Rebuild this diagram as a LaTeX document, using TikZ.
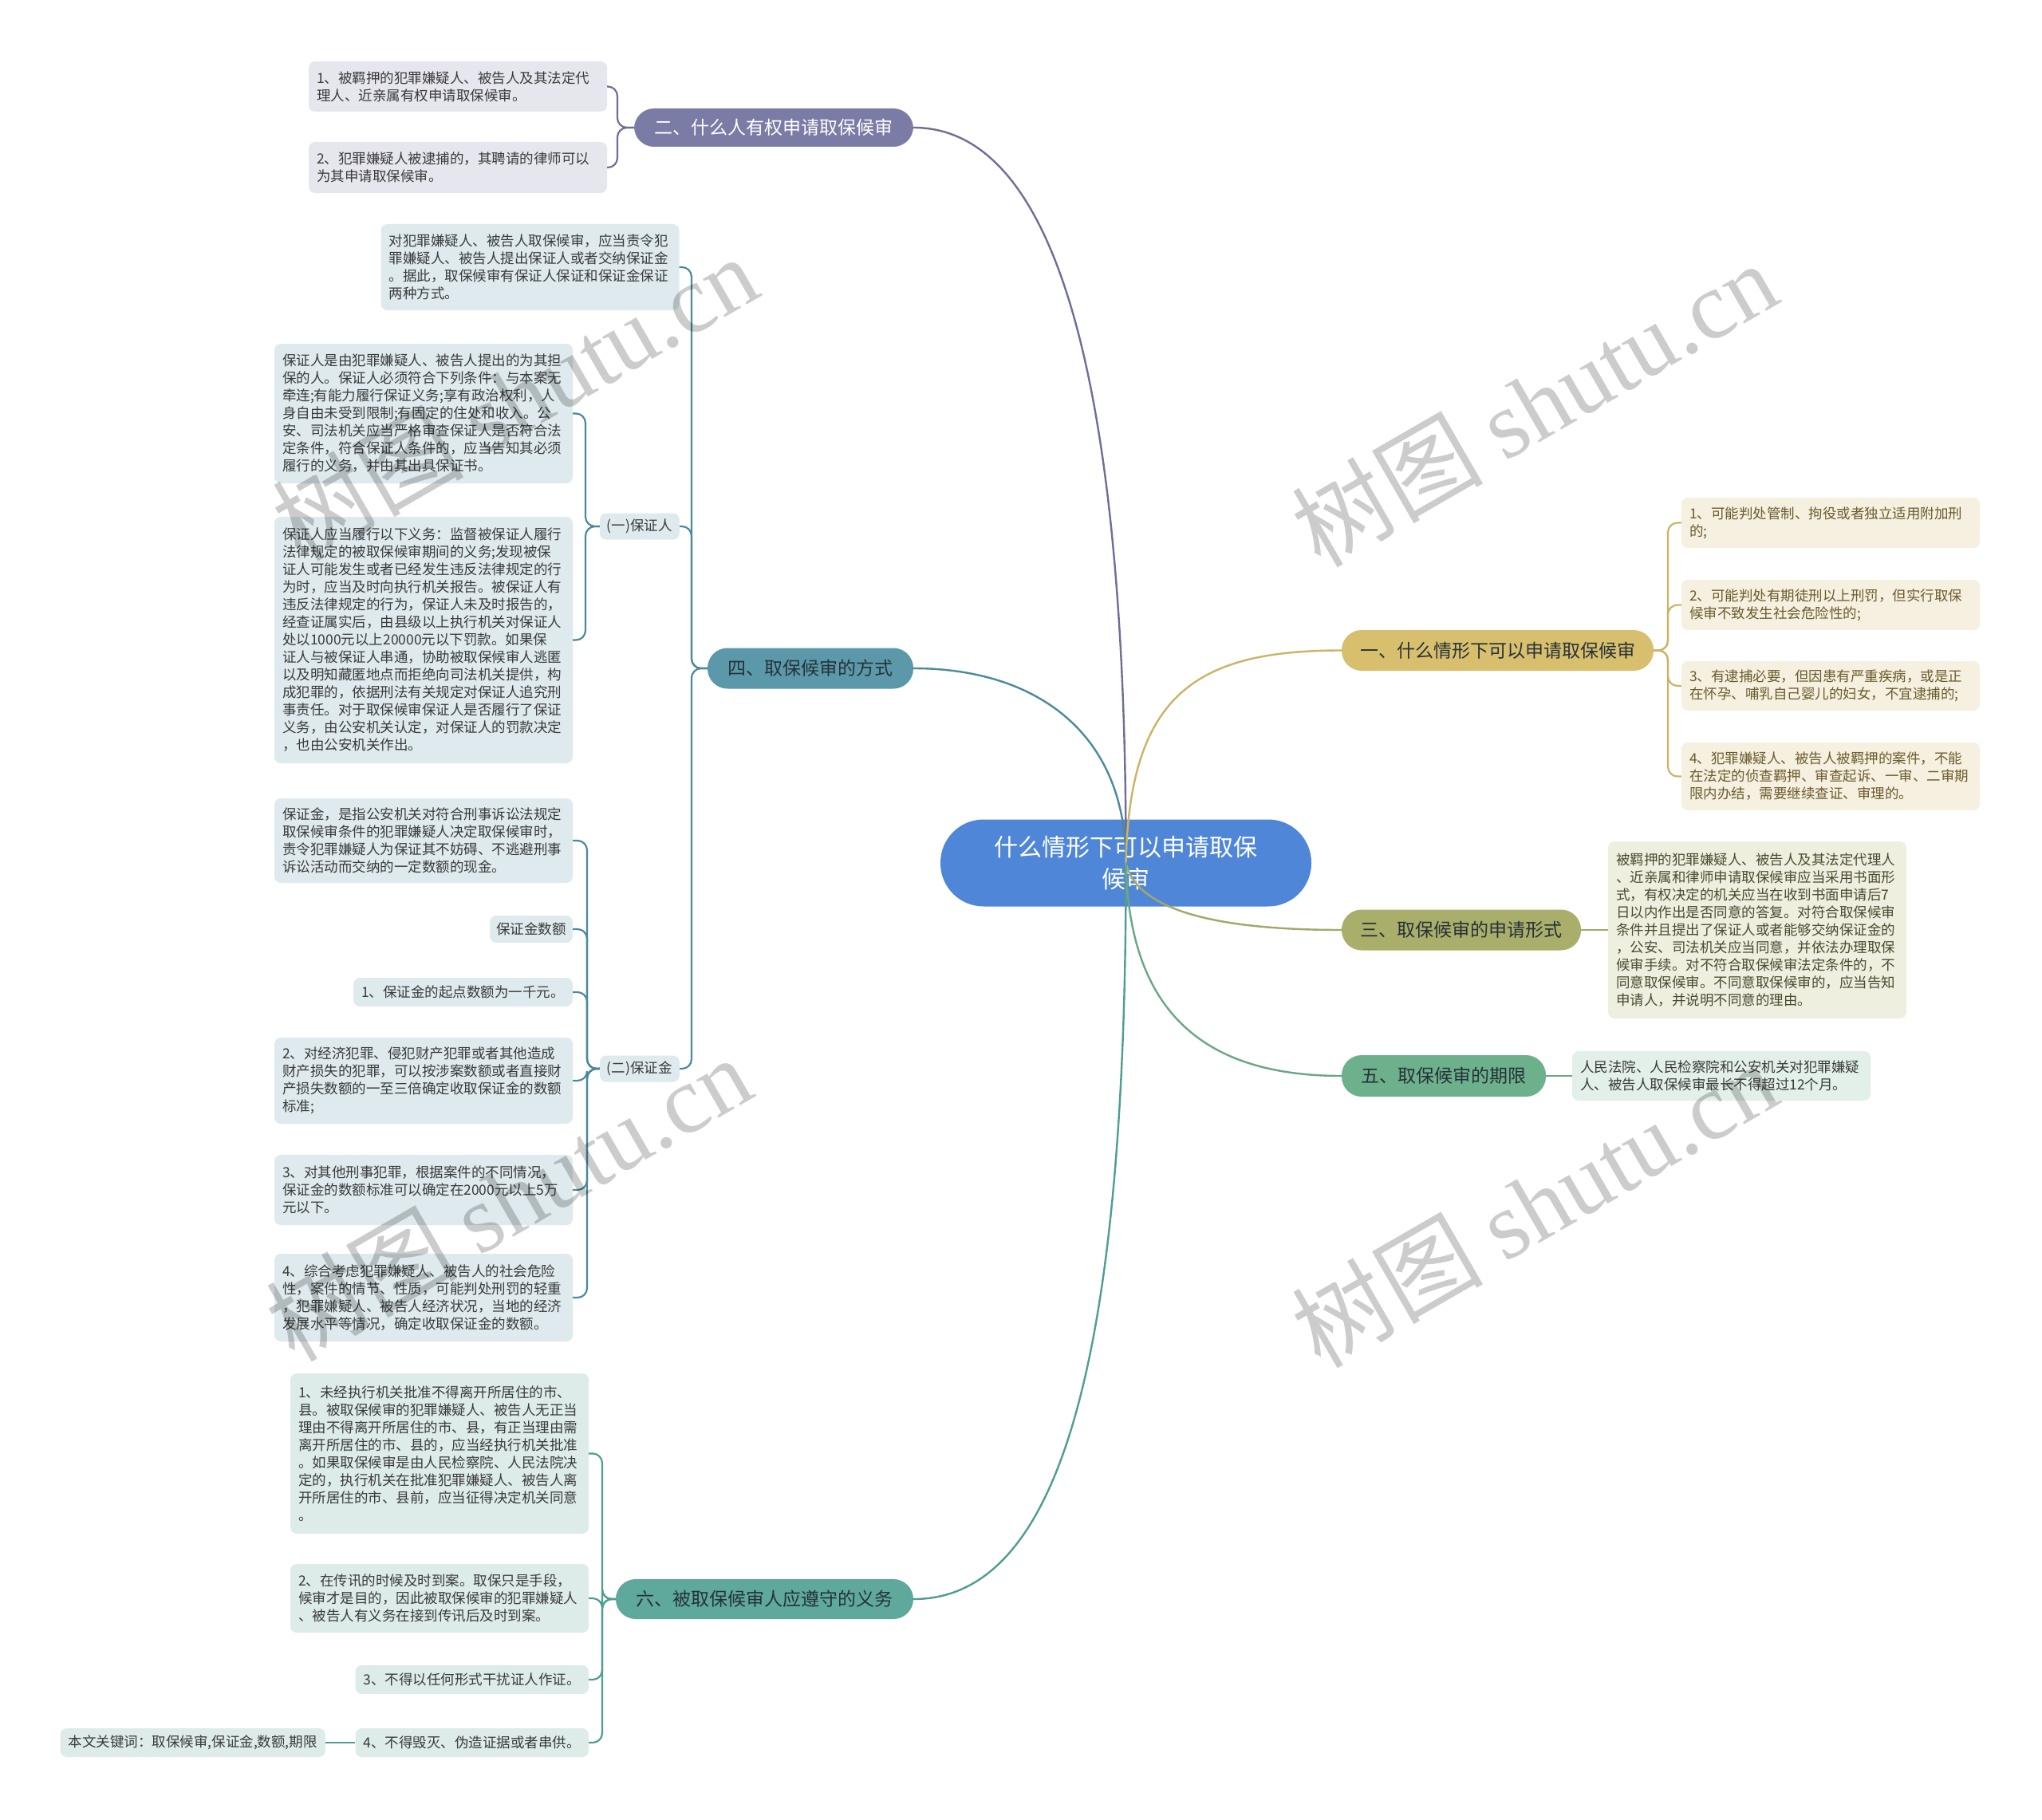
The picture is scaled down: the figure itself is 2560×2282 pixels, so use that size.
\documentclass[tikz,border=0pt]{standalone}
\usepackage{fontspec}
\setmainfont{Noto Sans CJK SC}
\newfontfamily\wmserif{Liberation Serif}
\usetikzlibrary{calc}
\definecolor{cmain}{HTML}{4F86D8}
\definecolor{f2}{HTML}{7B7CA6}\definecolor{k2}{HTML}{6E6F96}\definecolor{l2}{HTML}{E6E6EE}
\definecolor{f4}{HTML}{5A98AA}\definecolor{k4}{HTML}{4B8A9C}\definecolor{l4}{HTML}{DEEAEE}
\definecolor{f6}{HTML}{5EA89C}\definecolor{k6}{HTML}{4F9E91}\definecolor{l6}{HTML}{DDECE9}
\definecolor{f1}{HTML}{D8BF6E}\definecolor{k1}{HTML}{CBB467}\definecolor{l1}{HTML}{F5F0DF}
\definecolor{f3}{HTML}{A9AE6B}\definecolor{k3}{HTML}{A4A866}\definecolor{l3}{HTML}{EFEFDF}
\definecolor{f5}{HTML}{6DB08C}\definecolor{k5}{HTML}{6AA883}\definecolor{l5}{HTML}{E2F0E9}
\definecolor{txt}{HTML}{3A3A3A}\definecolor{txt1}{HTML}{6B5C2D}\definecolor{txt3}{HTML}{4A4A30}
\definecolor{btxt}{HTML}{263238}
\tikzset{
  centre/.style={rectangle, rounded corners=54pt, fill=cmain, text=white, align=center,
    minimum width=465pt, minimum height=109pt, font=\fontsize{30}{40}\selectfont},
  branch/.style={rectangle, rounded corners=25pt, inner sep=0pt, text=btxt,
    font=\fontsize{23}{28}\selectfont},
  leaf/.style={rectangle, rounded corners=8pt, inner xsep=10pt, inner ysep=6pt, align=left,
    text=txt, font=\fontsize{17.5}{22}\selectfont},
  wide/.style={text width=354pt},
  conn/.style={line width=2.4pt, line cap=round},
  brk/.style={line width=2.2pt, rounded corners=12pt},
  wm/.style={rotate=30, text=black, text opacity=0.2, font=\fontsize{120}{120}\selectfont, inner sep=0pt}
}
\begin{document}
\begin{tikzpicture}[x=1pt,y=-1pt]
\useasboundingbox (0,0) rectangle (2560,2282);
\fill[white] (0,0) rectangle (2560,2282);

% centre
\node[centre] (c) at (1411.5,1082) {什么情形下可以申请取保\\候审};

% branches
\node[branch, fill=f2, text=white, minimum width=350pt, minimum height=48pt] (b2) at (970,160) {二、什么人有权申请取保候审};
\node[branch, fill=f4, minimum width=258pt, minimum height=51pt] (b4) at (1016,838) {四、取保候审的方式};
\node[branch, fill=f6, minimum width=373pt, minimum height=50pt] (b6) at (958.5,2005) {六、被取保候审人应遵守的义务};
\node[branch, fill=f1, minimum width=391pt, minimum height=51pt] (b1) at (1877.5,815.5) {一、什么情形下可以申请取保候审};
\node[branch, fill=f3, minimum width=300pt, minimum height=51pt] (b3) at (1832,1166) {三、取保候审的申请形式};
\node[branch, fill=f5, minimum width=256pt, minimum height=52pt] (b5) at (1810,1349) {五、取保候审的期限};

% branch 二 leaves
\node[leaf, wide, fill=l2, minimum height=63pt] (l21) at (574,108.5) {1、被羁押的犯罪嫌疑人、被告人及其法定代\\理人、近亲属有权申请取保候审。};
\node[leaf, wide, fill=l2, minimum height=64pt] (l22) at (574,210) {2、犯罪嫌疑人被逮捕的，其聘请的律师可以\\为其申请取保候审。};

% branch 四 leaves
\node[leaf, wide, fill=l4, minimum height=108pt] (i4) at (664.5,335) {对犯罪嫌疑人、被告人取保候审，应当责令犯\\罪嫌疑人、被告人提出保证人或者交纳保证金\\。据此，取保候审有保证人保证和保证金保证\\两种方式。};
\node[leaf, fill=l4, minimum height=33pt, inner xsep=9pt, anchor=east] (g1) at (852,660) {(一)保证人};
\node[leaf, fill=l4, minimum height=33pt, inner xsep=9pt, anchor=east] (g2) at (852,1340) {(二)保证金};
\node[leaf, wide, fill=l4, minimum height=175pt] (p1) at (531,518.5) {保证人是由犯罪嫌疑人、被告人提出的为其担\\保的人。保证人必须符合下列条件：与本案无\\牵连;有能力履行保证义务;享有政治权利，人\\身自由未受到限制;有固定的住处和收入。公\\安、司法机关应当严格审查保证人是否符合法\\定条件，符合保证人条件的，应当告知其必须\\履行的义务，并由其出具保证书。};
\node[leaf, wide, fill=l4, minimum height=309pt] (p2) at (531,802.5) {保证人应当履行以下义务：监督被保证人履行\\法律规定的被取保候审期间的义务;发现被保\\证人可能发生或者已经发生违反法律规定的行\\为时，应当及时向执行机关报告。被保证人有\\违反法律规定的行为，保证人未及时报告的，\\经查证属实后，由县级以上执行机关对保证人\\处以1000元以上20000元以下罚款。如果保\\证人与被保证人串通，协助被取保候审人逃匿\\以及明知藏匿地点而拒绝向司法机关提供，构\\成犯罪的，依据刑法有关规定对保证人追究刑\\事责任。对于取保候审保证人是否履行了保证\\义务，由公安机关认定，对保证人的罚款决定\\，也由公安机关作出。};
\node[leaf, wide, fill=l4, minimum height=106pt] (m0) at (531,1054) {保证金，是指公安机关对符合刑事诉讼法规定\\取保候审条件的犯罪嫌疑人决定取保候审时，\\责令犯罪嫌疑人为保证其不妨碍、不逃避刑事\\诉讼活动而交纳的一定数额的现金。};
\node[leaf, fill=l4, minimum height=34pt, inner xsep=8pt, anchor=east] (m1) at (718,1165) {保证金数额};
\node[leaf, fill=l4, minimum height=36pt, anchor=east] (m2) at (718,1244) {1、保证金的起点数额为一千元。};
\node[leaf, wide, fill=l4, minimum height=108pt] (m3) at (531,1355) {2、对经济犯罪、侵犯财产犯罪或者其他造成\\财产损失的犯罪，可以按涉案数额或者直接财\\产损失数额的一至三倍确定收取保证金的数额\\标准;};
\node[leaf, wide, fill=l4, minimum height=88pt] (m4) at (531,1492) {3、对其他刑事犯罪，根据案件的不同情况，\\保证金的数额标准可以确定在2000元以上5万\\元以下。};
\node[leaf, wide, fill=l4, minimum height=110pt] (m5) at (531,1627) {4、综合考虑犯罪嫌疑人、被告人的社会危险\\性，案件的情节、性质，可能判处刑罚的轻重\\，犯罪嫌疑人、被告人经济状况，当地的经济\\发展水平等情况，确定收取保证金的数额。};

% branch 六 leaves
\node[leaf, wide, fill=l6, minimum height=201pt] (s1) at (551,1822.5) {1、未经执行机关批准不得离开所居住的市、\\县。被取保候审的犯罪嫌疑人、被告人无正当\\理由不得离开所居住的市、县，有正当理由需\\离开所居住的市、县的，应当经执行机关批准\\。如果取保候审是由人民检察院、人民法院决\\定的，执行机关在批准犯罪嫌疑人、被告人离\\开所居住的市、县前，应当征得决定机关同意\\。};
\node[leaf, wide, fill=l6, minimum height=86pt] (s2) at (551,2004) {2、在传讯的时候及时到案。取保只是手段，\\候审才是目的，因此被取保候审的犯罪嫌疑人\\、被告人有义务在接到传讯后及时到案。};
\node[leaf, fill=l6, minimum height=36pt, anchor=east] (s3) at (738,2106) {3、不得以任何形式干扰证人作证。};
\node[leaf, fill=l6, minimum height=36pt, anchor=east] (s4) at (738,2185) {4、不得毁灭、伪造证据或者串供。};
\node[leaf, fill=l6, minimum height=36pt, anchor=east] (kw) at (408,2185) {本文关键词：取保候审,保证金,数额,期限};

% branch 一 leaves
\node[leaf, wide, fill=l1, text=txt1, minimum height=63pt] (r1) at (2295,655.5) {1、可能判处管制、拘役或者独立适用附加刑\\的;};
\node[leaf, wide, fill=l1, text=txt1, minimum height=63pt] (r2) at (2295,758.5) {2、可能判处有期徒刑以上刑罚，但实行取保\\候审不致发生社会危险性的;};
\node[leaf, wide, fill=l1, text=txt1, minimum height=62pt] (r3) at (2295,860) {3、有逮捕必要，但因患有严重疾病，或是正\\在怀孕、哺乳自己婴儿的妇女，不宜逮捕的;};
\node[leaf, wide, fill=l1, text=txt1, minimum height=85pt] (r4) at (2295,973.5) {4、犯罪嫌疑人、被告人被羁押的案件，不能\\在法定的侦查羁押、审查起诉、一审、二审期\\限内办结，需要继续查证、审理的。};

% branch 三 / 五 leaves
\node[leaf, wide, fill=l3, text=txt3, minimum height=222pt] (t3) at (2203,1166) {被羁押的犯罪嫌疑人、被告人及其法定代理人\\、近亲属和律师申请取保候审应当采用书面形\\式，有权决定的机关应当在收到书面申请后7\\日以内作出是否同意的答复。对符合取保候审\\条件并且提出了保证人或者能够交纳保证金的\\，公安、司法机关应当同意，并依法办理取保\\候审手续。对不符合取保候审法定条件的，不\\同意取保候审。不同意取保候审的，应当告知\\申请人，并说明不同意的理由。};
\node[leaf, wide, fill=l5, minimum height=62pt] (t5) at (2158,1349) {人民法院、人民检察院和公安机关对犯罪嫌疑\\人、被告人取保候审最长不得超过12个月。};

% bracket columns
\coordinate (v2) at (774,0);
\coordinate (v4) at (867,0);
\coordinate (vg1) at (734,0);
\coordinate (vg2) at (736,0);
\coordinate (v6) at (755,0);
\coordinate (v1) at (2091,0);

% centre connectors
\draw[conn, k2] (c.center) .. controls (1412,500) and (1330,160) .. (b2.east);
\draw[conn, k4] (c.center) .. controls (1412,920) and (1300,838) .. (b4.east);
\draw[conn, k6] (c.center) .. controls (1412,1700) and (1330,2005) .. (b6.east);
\draw[conn, k1] (c.center) .. controls (1416,870) and (1500,815.5) .. (b1.west);
\draw[conn, k3] (c.center) .. controls (1425,1140) and (1520,1166) .. (b3.west);
\draw[conn, k5] (c.center) .. controls (1415,1260) and (1500,1349) .. (b5.west);

% brackets 二
\foreach \n in {l21,l22}
  \draw[brk, k2] (b2.west) -- (b2.west -| v2) -- (\n.east -| v2) -- (\n.east);
% brackets 四
\foreach \n in {i4,g1,g2}
  \draw[brk, k4] (b4.west) -- (b4.west -| v4) -- (\n.east -| v4) -- (\n.east);
\foreach \n in {p1,p2}
  \draw[brk, k4] (g1.west) -- (g1.west -| vg1) -- (\n.east -| vg1) -- (\n.east);
\foreach \n in {m0,m1,m2,m3,m4,m5}
  \draw[brk, k4] (g2.west) -- (g2.west -| vg2) -- (\n.east -| vg2) -- (\n.east);
% brackets 六
\foreach \n in {s1,s2,s3,s4}
  \draw[brk, k6] (b6.west) -- (b6.west -| v6) -- (\n.east -| v6) -- (\n.east);
\draw[brk, k6] (s4.west) -- (kw.east);
% brackets 一
\foreach \n in {r1,r2,r3,r4}
  \draw[brk, k1] (b1.east) -- (b1.east -| v1) -- (\n.west -| v1) -- (\n.west);
\draw[brk, k3] (b3.east) -- (t3.west);
\draw[brk, k5] (b5.east) -- (t5.west);

% watermarks
\node[wm] (w1) at (645,498) {树图 {\wmserif shutu.cn}};
\node[wm] (w2) at (1923,506) {树图 {\wmserif shutu.cn}};
\node[wm] (w3) at (637,1502) {树图 {\wmserif shutu.cn}};
\node[wm] (w4) at (1923,1510) {树图 {\wmserif shutu.cn}};
\end{tikzpicture}
\end{document}
